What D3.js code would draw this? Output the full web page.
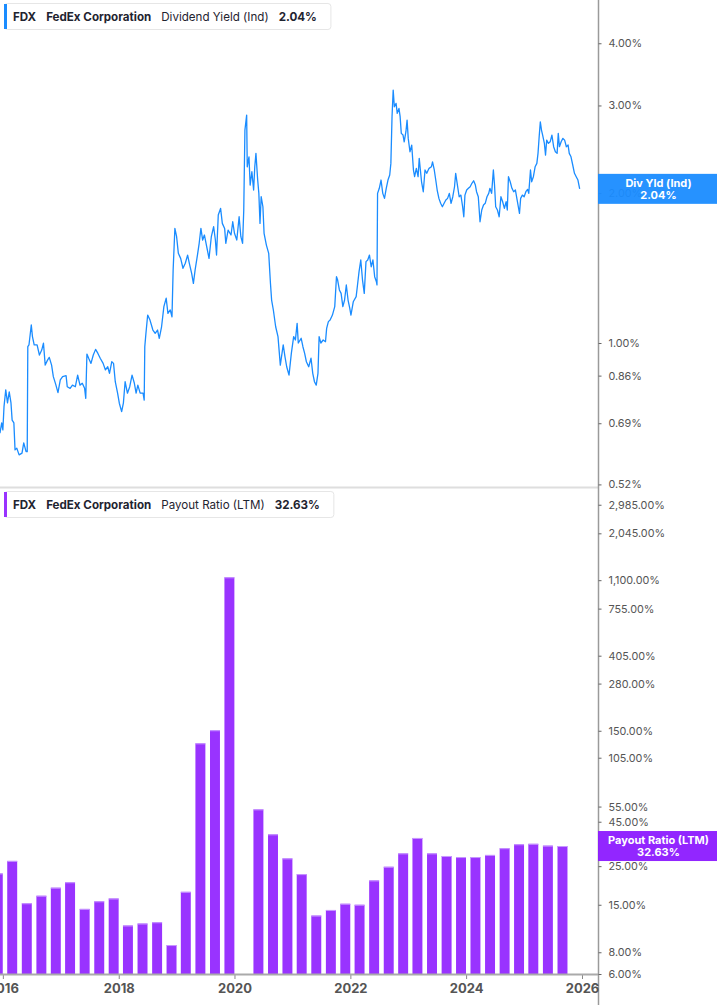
<!DOCTYPE html>
<html><head><meta charset="utf-8">
<script src="https://cdn.jsdelivr.net/npm/d3@7"></script>
<style>
body{margin:0;background:#fff;}
svg{display:block;font-family:Inter,"Noto Sans",sans-serif;}
</style>
</head><body>
<svg id="c" width="717" height="1005"></svg>
<script>
// ---------- DATA ----------
const ticker = "FDX";
const company = "FedEx Corporation";
const yieldName = "Dividend Yield (Ind)";
const yieldShort = "Div Yld (Ind)";
const yieldLast = 2.04;
const payoutName = "Payout Ratio (LTM)";
const payoutLast = 32.63;

const yieldYears = [2015.95,2015.98,2016.00,2016.02,2016.05,2016.08,2016.11,2016.14,2016.16,2016.19,2016.21,2016.24,2016.28,2016.33,2016.36,2016.40,2016.42,2016.43,2016.45,2016.49,2016.51,2016.54,2016.59,2016.63,2016.67,2016.70,2016.73,2016.77,2016.80,2016.84,2016.87,2016.91,2016.95,2016.99,2017.03,2017.09,2017.11,2017.16,2017.20,2017.25,2017.29,2017.33,2017.37,2017.41,2017.43,2017.45,2017.48,2017.52,2017.56,2017.60,2017.64,2017.68,2017.73,2017.77,2017.81,2017.84,2017.88,2017.91,2017.94,2017.98,2018.01,2018.05,2018.08,2018.11,2018.15,2018.19,2018.23,2018.27,2018.30,2018.33,2018.37,2018.42,2018.44,2018.45,2018.47,2018.50,2018.54,2018.59,2018.63,2018.67,2018.70,2018.74,2018.78,2018.82,2018.85,2018.89,2018.92,2018.94,2018.97,2019.00,2019.03,2019.07,2019.11,2019.15,2019.19,2019.22,2019.26,2019.29,2019.32,2019.36,2019.39,2019.42,2019.45,2019.48,2019.52,2019.56,2019.60,2019.64,2019.67,2019.69,2019.72,2019.76,2019.79,2019.83,2019.85,2019.89,2019.94,2019.97,2020.00,2020.04,2020.08,2020.11,2020.14,2020.16,2020.18,2020.21,2020.22,2020.25,2020.27,2020.30,2020.33,2020.35,2020.37,2020.40,2020.42,2020.44,2020.46,2020.49,2020.51,2020.55,2020.59,2020.62,2020.64,2020.67,2020.71,2020.75,2020.79,2020.84,2020.87,2020.90,2020.94,2020.98,2021.02,2021.05,2021.08,2021.10,2021.15,2021.18,2021.21,2021.24,2021.28,2021.32,2021.35,2021.38,2021.41,2021.44,2021.46,2021.49,2021.53,2021.57,2021.59,2021.62,2021.65,2021.69,2021.73,2021.76,2021.78,2021.81,2021.84,2021.87,2021.90,2021.93,2021.96,2021.99,2022.01,2022.05,2022.10,2022.12,2022.15,2022.18,2022.21,2022.24,2022.27,2022.30,2022.33,2022.36,2022.39,2022.42,2022.45,2022.46,2022.47,2022.50,2022.53,2022.56,2022.59,2022.62,2022.65,2022.68,2022.70,2022.72,2022.74,2022.76,2022.79,2022.81,2022.84,2022.86,2022.88,2022.91,2022.93,2022.96,2022.98,2023.00,2023.03,2023.06,2023.09,2023.11,2023.14,2023.17,2023.19,2023.23,2023.26,2023.29,2023.32,2023.36,2023.40,2023.42,2023.45,2023.48,2023.50,2023.53,2023.56,2023.59,2023.62,2023.65,2023.68,2023.71,2023.74,2023.77,2023.80,2023.82,2023.85,2023.88,2023.91,2023.94,2023.96,2023.98,2024.01,2024.04,2024.07,2024.10,2024.13,2024.16,2024.18,2024.21,2024.24,2024.27,2024.30,2024.33,2024.36,2024.39,2024.41,2024.44,2024.47,2024.49,2024.51,2024.54,2024.57,2024.60,2024.63,2024.66,2024.69,2024.71,2024.73,2024.76,2024.79,2024.82,2024.85,2024.88,2024.90,2024.92,2024.94,2024.97,2025.00,2025.03,2025.06,2025.08,2025.11,2025.13,2025.16,2025.19,2025.22,2025.24,2025.26,2025.28,2025.30,2025.32,2025.35,2025.37,2025.39,2025.42,2025.45,2025.48,2025.51,2025.54,2025.57,2025.59,2025.61,2025.64,2025.67,2025.70,2025.73,2025.76,2025.78,2025.81,2025.84,2025.87,2025.90,2025.93,2025.96];

const yieldValues = [0.659,0.691,0.669,0.745,0.805,0.758,0.798,0.758,0.700,0.691,0.610,0.615,0.596,0.601,0.630,0.605,0.605,0.983,0.991,1.087,1.030,0.991,0.991,0.946,0.968,0.999,0.903,0.924,0.936,0.903,0.856,0.827,0.795,0.843,0.856,0.860,0.817,0.811,0.823,0.817,0.862,0.823,0.830,0.811,0.774,0.950,0.932,0.910,0.946,0.971,0.953,0.932,0.910,0.883,0.896,0.869,0.917,0.910,0.836,0.793,0.757,0.728,0.757,0.836,0.793,0.817,0.862,0.830,0.793,0.823,0.793,0.793,0.768,0.983,1.046,1.138,1.112,1.062,1.046,1.062,1.022,1.078,1.183,1.230,1.147,1.165,1.129,1.402,1.699,1.635,1.514,1.479,1.413,1.446,1.502,1.446,1.380,1.318,1.402,1.502,1.586,1.699,1.610,1.648,1.561,1.479,1.635,1.712,1.610,1.502,1.807,1.864,1.739,1.699,1.586,1.686,1.648,1.752,1.661,1.610,1.793,1.635,1.586,1.850,2.677,2.870,2.259,2.366,2.076,2.208,2.029,2.259,2.404,2.125,1.998,1.739,1.967,1.878,1.661,1.573,1.514,1.318,1.220,1.165,1.078,1.030,0.903,0.991,0.939,0.896,0.862,0.953,1.030,1.014,1.095,1.000,1.022,0.983,0.953,0.917,0.896,0.932,0.869,0.836,0.823,0.869,1.030,1.000,1.014,1.006,1.070,1.104,1.112,1.138,1.183,1.359,1.338,1.278,1.258,1.183,1.220,1.308,1.220,1.174,1.138,1.210,1.239,1.297,1.391,1.468,1.338,1.258,1.457,1.468,1.502,1.423,1.468,1.359,1.328,1.308,1.998,2.045,2.125,1.998,1.952,2.045,2.125,2.175,2.295,2.848,3.221,2.982,3.029,2.893,2.960,2.848,2.637,2.616,2.536,2.657,2.804,2.576,2.422,2.498,2.226,2.158,2.243,2.158,2.349,2.108,2.013,2.226,2.192,2.243,2.259,2.312,2.226,2.108,2.029,1.952,1.908,1.878,1.908,1.937,1.952,1.998,1.908,1.967,2.060,2.192,2.076,1.967,1.982,1.878,1.793,1.982,2.029,2.045,2.060,2.093,2.118,2.076,2.013,1.967,1.752,1.850,1.893,1.908,1.967,1.998,2.045,1.998,2.226,2.076,1.878,1.850,1.793,1.967,1.922,1.864,1.922,1.850,2.158,2.108,2.045,2.013,2.029,1.937,1.878,1.821,1.952,1.982,1.967,2.013,2.035,1.998,2.226,2.108,2.158,2.259,2.295,2.404,2.596,2.782,2.677,2.616,2.518,2.385,2.556,2.518,2.536,2.616,2.479,2.422,2.404,2.637,2.479,2.536,2.576,2.556,2.479,2.498,2.404,2.366,2.278,2.192,2.158,2.125,2.040];

const payoutDates = ["2015-11-30","2016-02-29","2016-05-31","2016-08-31","2016-11-30","2017-02-28","2017-05-31","2017-08-31","2017-11-30","2018-02-28","2018-05-31","2018-08-31","2018-11-30","2019-02-28","2019-05-31","2019-08-31","2019-11-30","2020-02-29","2020-05-31","2020-08-31","2020-11-30","2021-02-28","2021-05-31","2021-08-31","2021-11-30","2022-02-28","2022-05-31","2022-08-31","2022-11-30","2023-02-28","2023-05-31","2023-08-31","2023-11-30","2024-02-29","2024-05-31","2024-08-31","2024-11-30","2025-02-28","2025-05-31","2025-08-31"];
const payoutValues = [22.7,26.8,15.3,16.9,18.8,20.2,14.2,15.7,16.3,11.4,11.7,11.9,8.8,17.8,127,151,1143,null,53.0,38.1,27.7,22.5,13.0,14.0,15.2,15.0,20.7,24.8,29.6,36.3,29.6,28.6,28.2,28.2,29.0,31.7,33.4,33.6,32.8,32.63];

const yieldTicks = [0.52,0.69,0.86,1.00,2.00,3.00,4.00];
const payoutTicks = [6,8,15,25,45,55,105,150,280,405,755,1100,2045,2985];
const yearTicks = [2016,2018,2020,2022,2024,2026];

// ---------- LAYOUT ----------
const W = 717, H = 1005;
const plotR = 598;
const topPanel = {y0:0, y1:487};
const botPanel = {y0:490, y1:974};
const blue = "#1a8cff", purple = "#9933ff";

const svg = d3.select("#c");

function yearToDate(y){
  const yr = Math.floor(y);
  const a = Date.UTC(yr,0,1), b = Date.UTC(yr+1,0,1);
  return new Date(a + (y-yr)*(b-a));
}

const x = d3.scaleUtc()
  .domain([new Date(Date.UTC(2015,11,14)), new Date(Date.UTC(2026,3,12))])
  .range([0, plotR]);

const yTop = d3.scaleLog().domain([0.5138, 4.886]).range([topPanel.y1, topPanel.y0]);
const yBot = d3.scaleLog().domain([6, 3628]).range([botPanel.y1, botPanel.y0]);

const defs = svg.append("defs");
defs.append("clipPath").attr("id","clipTop").append("rect")
  .attr("x",0).attr("y",topPanel.y0).attr("width",plotR).attr("height",topPanel.y1-topPanel.y0);
defs.append("clipPath").attr("id","clipBot").append("rect")
  .attr("x",0).attr("y",botPanel.y0).attr("width",plotR).attr("height",botPanel.y1-botPanel.y0);

// separator between panels
svg.append("line").attr("x1",0).attr("x2",plotR).attr("y1",487.5).attr("y2",487.5)
  .attr("stroke","#dedede").attr("stroke-width",2);

// ---------- TOP LINE ----------
const lineData = yieldYears.map((y,i)=>({d:yearToDate(y), v:yieldValues[i]}));
svg.append("g").attr("clip-path","url(#clipTop)")
  .append("path").datum(lineData)
  .attr("fill","none").attr("stroke",blue).attr("stroke-width",1.3)
  .attr("stroke-linejoin","round")
  .attr("d", d3.line().x(d=>x(d.d)).y(d=>yTop(d.v)));

// ---------- BARS ----------
const barData = payoutDates.map((s,i)=>({d:new Date(s+"T00:00:00Z"), v:payoutValues[i]})).filter(d=>d.v!=null);
const qW = x(new Date(Date.UTC(2020,3,1))) - x(new Date(Date.UTC(2020,0,1)));
const bw = qW*0.69;
const gb = svg.append("g").attr("clip-path","url(#clipBot)");
gb.selectAll("rect.bar").data(barData).enter().append("rect").attr("class","bar")
  .attr("x",d=>x(d.d)-bw/2).attr("width",bw)
  .attr("y",d=>yBot(d.v)).attr("height",d=>botPanel.y1-yBot(d.v))
  .attr("fill",purple);
gb.selectAll("line.hi").data(barData).enter().append("line").attr("class","hi")
  .attr("x1",d=>x(d.d)-bw/2).attr("x2",d=>x(d.d)+bw/2)
  .attr("y1",d=>yBot(d.v)+0.5).attr("y2",d=>yBot(d.v)+0.5)
  .attr("stroke","#c899ff").attr("stroke-width",1);

// ---------- AXES ----------
svg.append("line").attr("x1",plotR+0.5).attr("x2",plotR+0.5).attr("y1",0).attr("y2",H)
  .attr("stroke","#9a9a9a").attr("stroke-width",1.5);

function rightAxis(scale, ticks, fmt){
  const g = svg.append("g").attr("transform",`translate(${plotR+0.5},0)`);
  const ax = d3.axisRight(scale).tickValues(ticks).tickFormat(fmt).tickSize(3).tickPadding(7);
  g.call(ax);
  g.select(".domain").remove();
  g.selectAll(".tick line").attr("stroke","#666");
  g.selectAll(".tick text").attr("fill","#555").attr("font-size",10.8)
    .attr("font-family",'Inter,"Noto Sans",sans-serif');
  return g;
}
rightAxis(yTop, yieldTicks, d=>d3.format(".2f")(d)+"%");
rightAxis(yBot, payoutTicks, d=>d3.format(",.2f")(d)+"%");

// bottom x axis
const gx = svg.append("g").attr("transform",`translate(0,${botPanel.y1})`);
gx.call(d3.axisBottom(x).tickValues(yearTicks.map(y=>new Date(Date.UTC(y,0,1))))
  .tickFormat(d3.utcFormat("%Y")).tickSize(5).tickPadding(5));
gx.select(".domain").remove();
gx.selectAll(".tick line").attr("stroke","#888");
gx.selectAll(".tick text").attr("fill","#555").attr("font-size",13).attr("font-weight","bold")
  .attr("font-family",'Inter,"Noto Sans",sans-serif');
svg.append("line").attr("x1",0).attr("x2",plotR).attr("y1",botPanel.y1+0.5).attr("y2",botPanel.y1+0.5)
  .attr("stroke","#aaa").attr("stroke-width",2);

// ---------- RIGHT VALUE LABELS ----------
function valueBox(yc, color, l1, l2){
  const g = svg.append("g");
  g.append("rect").attr("x",plotR).attr("y",yc-15).attr("width",W-plotR).attr("height",30)
    .attr("fill",color).attr("fill-opacity",0.95);
  const cx = plotR + (W-plotR)/2 + 1;
  g.append("text").attr("x",cx).attr("y",yc-2).attr("text-anchor","middle")
    .attr("fill","#fff").attr("font-size",11).attr("font-weight","bold").text(l1);
  g.append("text").attr("x",cx).attr("y",yc+10).attr("text-anchor","middle")
    .attr("fill","#fff").attr("font-size",11).attr("font-weight","bold").text(l2);
}
valueBox(yTop(yieldLast), "#1a8cff", yieldShort, yieldLast.toFixed(2)+"%");
valueBox(yBot(payoutLast), "#8c1aff", payoutName, payoutLast.toFixed(2)+"%");

// ---------- LEGENDS ----------
function legend(y0, color, name, val){
  const g = svg.append("g");
  const box = g.append("rect").attr("x",4.5).attr("y",y0+0.5).attr("height",26).attr("rx",3)
    .attr("fill","#fff").attr("stroke","#e6e6e6");
  g.append("rect").attr("x",4).attr("y",y0+1).attr("width",3).attr("height",25).attr("fill",color);
  const items = [[ticker,"bold"],[company,"bold"],[name,"normal"],[val,"bold"]];
  let xx = 13;
  items.forEach(([t,w])=>{
    const tx = g.append("text").attr("x",xx).attr("y",y0+17.5).attr("font-size",11.6)
      .attr("font-weight",w).attr("fill","#1f2430").text(t);
    xx += tx.node().getComputedTextLength() + 10;
  });
  box.attr("width", xx - 10 + 14 - 4.5);
}
legend(3, blue, yieldName, yieldLast.toFixed(2)+"%");
legend(491, purple, payoutName, payoutLast.toFixed(2)+"%");
</script>
</body></html>
